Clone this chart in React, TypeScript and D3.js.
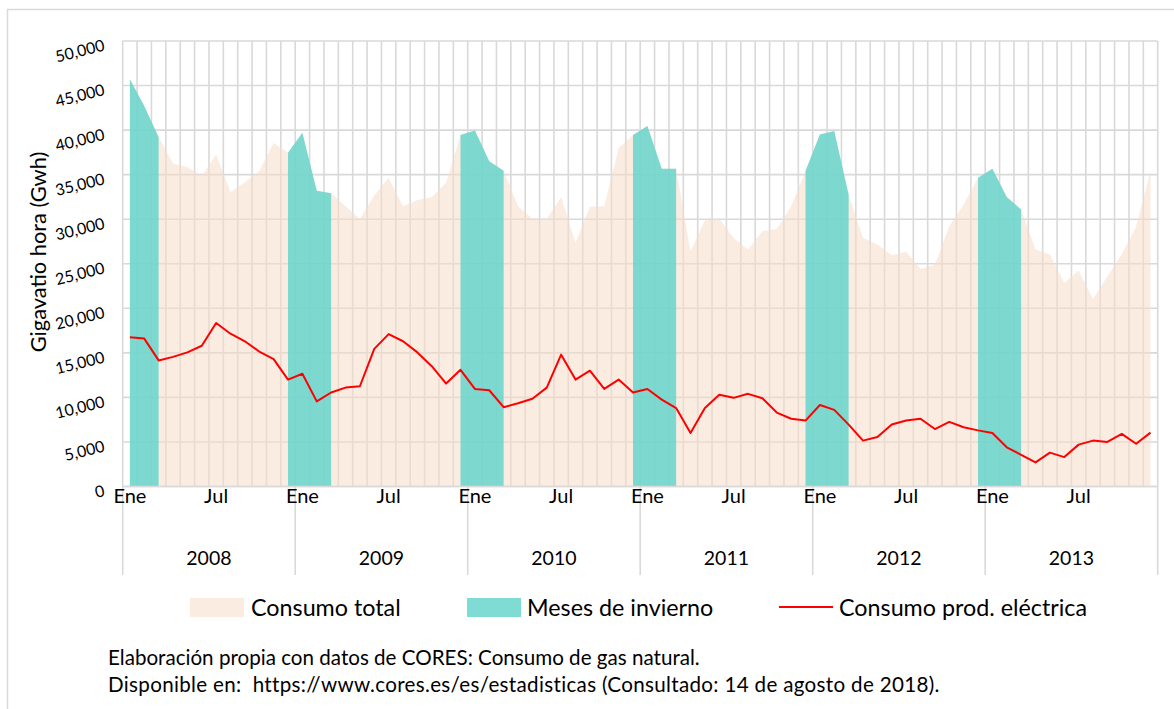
import React from 'react';
import * as d3 from 'd3';

const years = ['2008', '2009', '2010', '2011', '2012', '2013'];
const monthLabels = ['Ene', '', '', '', '', '', 'Jul', '', '', '', '', ''];

// Consumo total (GWh), Jan 2008 .. Dec 2013
const consumoTotal = [
  45700, 42700, 39200, 36250, 35850, 34850, 37250, 33050, 34150, 35400, 38550, 37450,
  39700, 33200, 32900, 31450, 30050, 32650, 34650, 31450, 32150, 32450, 34100, 39450,
  39950, 36500, 35450, 31450, 30050, 30050, 32500, 27350, 31400, 31450, 38000, 39450,
  40450, 35650, 35650, 26400, 29850, 30050, 27900, 26600, 28650, 28900, 31450, 35400,
  39500, 39900, 32750, 27900, 27150, 25950, 26350, 24400, 24900, 29200, 31650, 34650,
  35650, 32500, 31100, 26600, 26050, 22850, 24250, 21050, 23600, 26050, 29200, 35400,
];

// Meses de invierno (Dec-Mar), null elsewhere
const mesesInvierno: (number | null)[] = [
  45700, 42700, 39200, null, null, null, null, null, null, null, null, 37450,
  39700, 33200, 32900, null, null, null, null, null, null, null, null, 39450,
  39950, 36500, 35450, null, null, null, null, null, null, null, null, 39450,
  40450, 35650, 35650, null, null, null, null, null, null, null, null, 35400,
  39500, 39900, 32750, null, null, null, null, null, null, null, null, 34650,
  35650, 32500, 31100, null, null, null, null, null, null, null, null, null,
];

// Consumo producción eléctrica (GWh)
const consumoElectrica = [
  16750, 16600, 14150, 14550, 15050, 15800, 18350, 17150, 16300, 15150, 14300, 12000,
  12650, 9550, 10550, 11100, 11250, 15450, 17100, 16300, 15050, 13500, 11550, 13100,
  10950, 10800, 8900, 9350, 9850, 11100, 14800, 12000, 13000, 10950, 12000, 10550,
  10950, 9750, 8800, 6000, 8800, 10300, 9950, 10400, 9900, 8300, 7600, 7400,
  9150, 8600, 6950, 5150, 5550, 6950, 7400, 7600, 6450, 7250, 6650, 6300,
  6000, 4400, 3550, 2700, 3800, 3300, 4700, 5150, 5000, 5900, 4800, 6050,
];

const yTicks = [0, 5000, 10000, 15000, 20000, 25000, 30000, 35000, 40000, 45000, 50000];

const legendLabels = ['Consumo total', 'Meses de invierno', 'Consumo prod. eléctrica'];
const footerLines = [
  'Elaboración propia con datos de CORES: Consumo de gas natural.',
  'Disponible en:  https://www.cores.es/es/estadisticas (Consultado: 14 de agosto de 2018).',
];

const W = 1174;
const H = 709;
const FONT = 'Lato, "Open Sans", sans-serif';
const GRID = '#d9d9d9';

export default function App() {
  const n = consumoTotal.length;
  const x = d3.scaleBand<number>().domain(d3.range(n)).range([122.7, 1157.7]);
  const step = x.step();
  const cx = (i: number) => (x(i) as number) + step / 2;
  const y = d3.scaleLinear().domain([0, 50000]).range([486.5, 41]);

  const areaTotal = d3
    .area<number>()
    .x((_, i) => cx(i))
    .y0(y(0))
    .y1((d) => y(d))(consumoTotal) as string;

  const areaWinter = d3
    .area<number | null>()
    .defined((d) => d != null)
    .x((_, i) => cx(i))
    .y0(y(0))
    .y1((d) => y(d as number))(mesesInvierno) as string;

  const lineElec = d3
    .line<number>()
    .x((_, i) => cx(i))
    .y((d) => y(d))(consumoElectrica) as string;

  const fmt = d3.format(',');
  const left = x.range()[0];
  const right = x.range()[1];

  return (
    <svg
      width={W}
      height={H}
      style={{ position: 'absolute', left: 0, top: 0, background: '#fff' }}
      fontFamily={FONT}
    >
      <rect x={0} y={0} width={W} height={H} fill="#fff" />
      <rect x={7.5} y={9.5} width={W + 20} height={H + 20} fill="none" stroke={GRID} strokeWidth={1.5} />

      {/* horizontal grid */}
      {yTicks.map((t) => (
        <line key={'h' + t} x1={left} x2={right} y1={y(t)} y2={y(t)} stroke={GRID} strokeWidth={1.6} />
      ))}
      {/* vertical grid at category boundaries */}
      {d3.range(n + 1).map((i) => (
        <line
          key={'v' + i}
          x1={left + i * step}
          x2={left + i * step}
          y1={y(50000)}
          y2={y(0)}
          stroke={GRID}
          strokeWidth={1.6}
        />
      ))}

      <path d={areaTotal} fill="#f8dccb" fillOpacity={0.55} />
      <path d={areaWinter} fill="#5ed3ca" fillOpacity={0.8} />
      <path d={lineElec} fill="none" stroke="#ff0000" strokeWidth={2} strokeLinejoin="round" />

      {/* x axis line */}
      <line x1={left} x2={right} y1={y(0)} y2={y(0)} stroke={GRID} strokeWidth={1.6} />
      {/* year separators */}
      {d3.range(years.length + 1).map((k) => (
        <line
          key={'ys' + k}
          x1={left + k * 12 * step}
          x2={left + k * 12 * step}
          y1={y(0)}
          y2={575}
          stroke={GRID}
          strokeWidth={1.6}
        />
      ))}

      {/* month labels */}
      {d3.range(n).map((i) =>
        monthLabels[i % 12] ? (
          <text key={'m' + i} x={cx(i)} y={495} textAnchor="middle" dominantBaseline="central" fontSize={20} fill="#000">
            {monthLabels[i % 12]}
          </text>
        ) : null
      )}
      {/* year labels */}
      {years.map((yr, k) => (
        <text
          key={'y' + yr}
          x={left + (k * 12 + 6) * step}
          y={557}
          textAnchor="middle"
          dominantBaseline="central"
          fontSize={19.5}
          fill="#000"
        >
          {yr}
        </text>
      ))}

      {/* y tick labels, rotated */}
      {yTicks.map((t) => (
        <text
          key={'yt' + t}
          x={104}
          y={y(t) + 3}
          textAnchor="end"
          dominantBaseline="central"
          fontSize={16}
          fill="#000"
          transform={`rotate(-14 104 ${y(t) + 3})`}
        >
          {fmt(t)}
        </text>
      ))}

      {/* y axis title */}
      <text
        transform={`translate(37 252) rotate(-90)`}
        textAnchor="middle"
        dominantBaseline="central"
        fontSize={21.8}
        fill="#000"
      >
        Gigavatio hora (Gwh)
      </text>

      {/* legend */}
      <rect x={190} y={598} width={54} height={19} fill="#f8dccb" fillOpacity={0.55} />
      <text x={251} y={607} dominantBaseline="central" fontSize={23.3} fill="#000">
        {legendLabels[0]}
      </text>
      <rect x={467} y={598} width={54} height={19} fill="#5ed3ca" fillOpacity={0.8} />
      <text x={527} y={607} dominantBaseline="central" fontSize={23.3} fill="#000">
        {legendLabels[1]}
      </text>
      <line x1={779} x2={833} y1={607} y2={607} stroke="#ff0000" strokeWidth={2} />
      <text x={839} y={607} dominantBaseline="central" fontSize={23.3} fill="#000">
        {legendLabels[2]}
      </text>

      {/* footer */}
      {footerLines.map((s, i) => (
        <text
          key={'f' + i}
          x={108}
          y={657 + i * 27}
          dominantBaseline="central"
          fontSize={20.6}
          fill="#000"
          letterSpacing={i === 1 ? 0.32 : 0}
          style={{ whiteSpace: 'pre' }}
        >
          {s}
        </text>
      ))}
    </svg>
  );
}
